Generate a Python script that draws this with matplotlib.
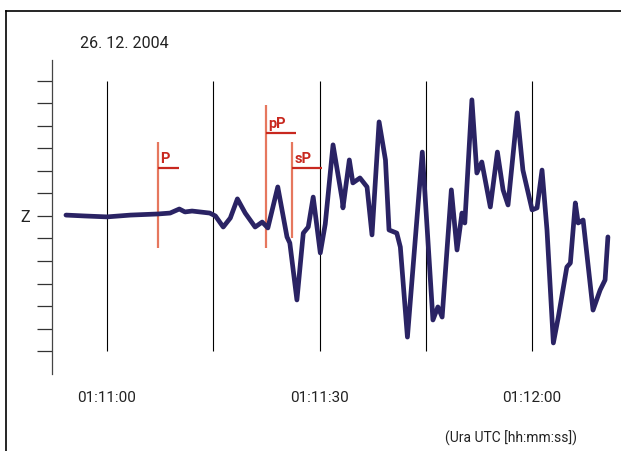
import matplotlib
matplotlib.use('Agg')
import matplotlib.pyplot as plt
from matplotlib.lines import Line2D

plt.rcParams['font.family'] = ['Roboto', 'DejaVu Sans']

# seconds after 01:11:00 UTC and vertical (Z) amplitude in tick units
t_sec = [-5.8, -3.1, 0.0, 3.3, 7.2, 8.9, 10.2, 11.0, 12.0, 13.1, 14.5, 15.3,
         16.4, 17.4, 18.4, 19.5, 20.9, 21.9, 22.7, 24.1, 25.4, 25.8, 26.8,
         27.7, 28.4, 29.1, 30.1, 30.8, 31.9, 33.2, 33.3, 34.2, 34.7, 35.7,
         36.7, 37.4, 38.4, 39.3, 39.8, 40.9, 41.4, 42.4, 43.5, 44.5, 45.2,
         46.0, 46.7, 47.3, 48.6, 49.4, 50.1, 50.5, 51.5, 52.2, 52.9, 54.1,
         55.1, 55.9, 56.6, 57.9, 58.7, 60.0, 60.7, 61.4, 62.1, 63.0, 63.7,
         64.9, 65.4, 66.1, 66.5, 67.2, 68.6, 69.6, 70.3, 70.7]
z_amp = [0.04, 0.0, -0.04, 0.04, 0.09, 0.13, 0.31, 0.18, 0.22, 0.18, 0.13, 0.0,
         -0.49, -0.09, 0.76, 0.13, -0.49, -0.27, -0.53, 1.29, -0.93, -1.2, -3.73,
         -0.76, -0.49, 0.84, -1.64, -0.36, 3.16, 0.71, 0.36, 2.49, 1.47, 1.69,
         1.29, -0.84, 4.18, 2.49, -0.62, -0.76, -1.38, -5.38, -1.07, 2.84, -0.62,
         -4.62, -4.04, -4.49, 1.16, -1.51, 0.13, -0.31, 5.16, 1.91, 2.4, 0.4,
         2.84, 1.16, 0.49, 4.58, 2.04, 0.27, 0.36, 2.04, -0.62, -5.64, -4.49,
         -2.27, -2.09, 0.58, -0.31, -0.18, -4.18, -3.29, -2.84, -0.93]

# phase picks: name, time, top and bottom of the marker line, flag height, flag length
phase_names = ['P', 'pP', 'sP']
phase_t = [7.2, 22.45, 26.1]
phase_top = [3.29, 4.93, 3.29]
phase_bottom = [-1.42, -1.42, -1.0]
phase_flag = [2.13, 3.69, 2.13]
phase_flag_len = [3.0, 4.2, 4.2]

grid_t = [0, 15, 30, 45, 60]
xtick_t = [0, 30, 60]
xtick_labels = ['01:11:00', '01:11:30', '01:12:00']
ytick_z = list(range(-6, 7))

W, H = 621, 451
fig = plt.figure(figsize=(W / 100, H / 100), dpi=100)
ax = fig.add_axes([52 / W, 77 / H, 563 / W, 314 / H])

trace_col = '#2a2364'
line_red = '#e4684c'
text_red = '#c8281f'

ax.vlines(grid_t, -6, 6, colors='black', linewidth=0.8)

for name, t, top, bot, fy, fl in zip(phase_names, phase_t, phase_top,
                                     phase_bottom, phase_flag, phase_flag_len):
    ax.vlines(t, bot, top, colors=line_red, linewidth=1.6, alpha=0.9)
    ax.hlines(fy, t, t + fl, colors=text_red, linewidth=1.6)
    ax.text(t + 0.35, fy + 0.08, name, color=text_red, fontsize=10.5,
            fontweight='bold', ha='left', va='bottom')

ax.plot(t_sec, z_amp, color=trace_col, linewidth=3.4,
        solid_joinstyle='round', solid_capstyle='round', zorder=3)

ax.set_xlim(-7.77, 71.7)
ax.set_ylim(-7.02, 6.93)

ax.set_yticks(ytick_z)
ax.set_yticklabels(['Z' if v == 0 else '' for v in ytick_z], fontsize=11.5)
ax.tick_params(axis='y', direction='out', length=11, width=0.9, pad=5,
               colors='#333333', labelcolor='#222222')

ax.set_xticks(xtick_t)
ax.set_xticklabels(xtick_labels, fontsize=11, color='#222222')
ax.tick_params(axis='x', length=0, pad=12)

for side in ['top', 'right', 'bottom']:
    ax.spines[side].set_visible(False)
ax.spines['left'].set_color('#444444')
ax.spines['left'].set_linewidth(0.9)

fig.text(80 / W, 1 - 43 / H, '26. 12. 2004', fontsize=11.5, color='#222222',
         ha='left', va='center')
fig.text(577 / W, 1 - 438 / H, '(Ura UTC [hh:mm:ss])', fontsize=10,
         color='#222222', ha='right', va='center')

# outer frame, top and left edges
fig.add_artist(Line2D([6 / W, 1], [1 - 11 / H, 1 - 11 / H], color='black',
                      linewidth=1.2, transform=fig.transFigure))
fig.add_artist(Line2D([6 / W, 6 / W], [0, 1 - 11 / H], color='black',
                      linewidth=1.2, transform=fig.transFigure))

fig.savefig('out.png', dpi=100)
